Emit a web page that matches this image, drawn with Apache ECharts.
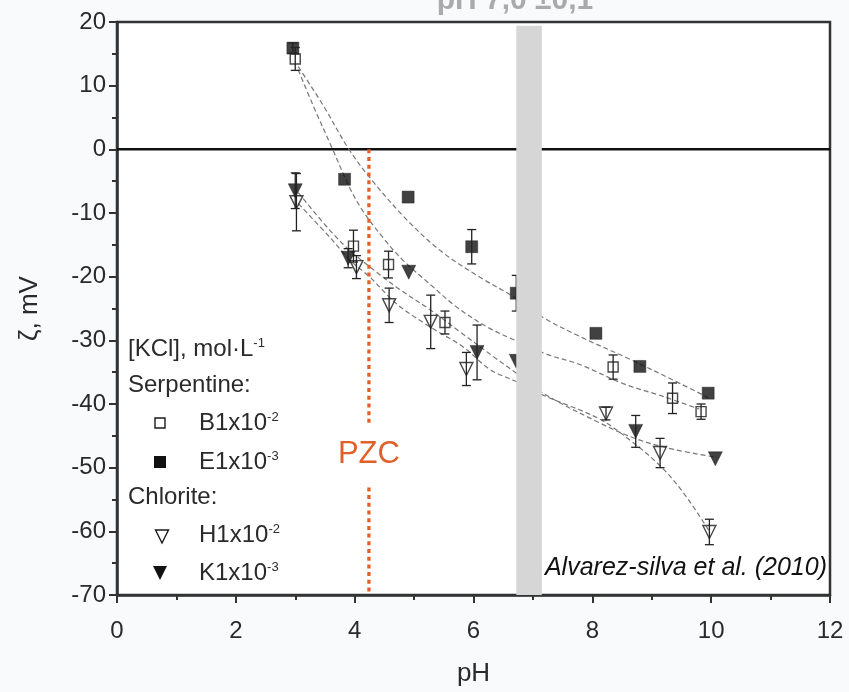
<!DOCTYPE html>
<html>
<head>
<meta charset="utf-8">
<script src="https://cdn.jsdelivr.net/npm/echarts@6/dist/echarts.min.js"></script>
<style>
html,body{margin:0;padding:0;background:#f9fafc;}
#chart{width:849px;height:692px;}
</style>
</head>
<body>
<div id="chart"></div>
<script>
// ---- data ----
const xTicks = [0, 2, 4, 6, 8, 10, 12];
const yTicks = [20, 10, 0, -10, -20, -30, -40, -50, -60, -70];

// Serpentine B 1x10^-2 (open squares)
const phB  = [3.0, 3.98, 4.57, 5.52, 8.35, 9.35, 9.83];
const mvB  = [14.2, -15.2, -18.1, -27.2, -34.2, -39.1, -41.2];
const errB = [1.8, 2.5, 2.1, 1.8, 1.9, 2.4, 1.2];

// Serpentine E 1x10^-3 (filled squares)
const phE  = [2.96, 3.83, 4.9, 5.97, 6.72, 8.06, 8.8, 9.95];
const mvE  = [15.9, -4.7, -7.5, -15.3, -22.6, -28.9, -34.1, -38.3];
const errE = [0.8, 0, 0, 2.7, 2.8, 0, 0, 0];

// Chlorite H 1x10^-2 (open down triangles)
const phH  = [3.02, 4.03, 4.58, 5.28, 5.88, 8.23, 9.14, 9.97];
const mvH  = [-8.3, -18.5, -24.5, -27.1, -34.5, -41.5, -47.7, -60.1];
const errH = [4.5, 1.8, 2.7, 4.2, 2.6, 1.0, 2.3, 2.0];

// Chlorite K 1x10^-3 (filled down triangles)
const phK  = [3.0, 3.89, 4.91, 6.06, 6.72, 8.73, 10.07];
const mvK  = [-6.5, -17.1, -19.3, -31.9, -33.3, -44.3, -48.6];
const errK = [2.8, 1.5, 0, 4.3, 0, 2.5, 0];

// fitted (dashed) curves
const fitE = [[3.05,13.0],[3.47,6.9],[3.89,0.2],[4.26,-4.5],[4.85,-10.8],[5.44,-15.9],[6.11,-20.1],[6.7,-23.3],[7.17,-26.4],[7.79,-29.4],[8.64,-33.0],[9.48,-36.8],[9.95,-39.0]];
const fitB = [[3.05,12.5],[3.3,6.9],[3.62,0.2],[3.92,-6.1],[4.14,-9.7],[4.48,-13.9],[4.81,-17.4],[5.27,-21.2],[5.72,-24.8],[6.23,-27.9],[6.7,-30.0],[7.24,-32.2],[7.79,-33.8],[8.52,-36.8],[9.19,-38.8],[9.8,-40.8]];
const fitK = [[3.05,-6.8],[3.59,-12.8],[3.92,-15.9],[4.26,-18.5],[4.71,-21.7],[5.27,-25.2],[5.82,-29.0],[6.4,-33.0],[6.7,-35.0],[7.17,-38.3],[8.13,-43.0],[8.69,-45.3],[9.26,-46.9],[10.1,-48.4]];
const fitH = [[3.05,-8.5],[3.59,-13.9],[3.92,-17.4],[4.26,-20.1],[4.71,-24.3],[5.27,-27.9],[5.82,-31.0],[6.28,-34.6],[6.7,-36.4],[7.17,-38.6],[8.13,-42.4],[8.69,-46.1],[9.14,-49.7],[9.53,-53.9],[9.97,-60.0]];

// annotations
const bandPH = [6.72, 7.15];
const bandTop = 19.4;
const pzcPH = 4.24;
const pzcSegments = [[0, -43.1], [-53.1, -70]];
const pzcLabelMV = -48;
const zeroMV = 0;

// ---- build ----
const FONT = 'Liberation Sans, Arial, Helvetica, sans-serif';
const INK = '#2a2a2a';
const chart = echarts.init(document.getElementById('chart'), null, {renderer: 'canvas'});

function errData(ph, mv, err) {
  const out = [];
  for (let i = 0; i < ph.length; i++) if (err[i] > 0) out.push([ph[i], mv[i] - err[i], mv[i] + err[i]]);
  return out;
}
function pts(ph, mv) { return ph.map((x, i) => [x, mv[i]]); }

function errSeries(data) {
  return {
    type: 'custom', z: 4, silent: true, data: data,
    encode: {x: 0, y: [1, 2]},
    renderItem: function (params, api) {
      const x = api.value(0), lo = api.value(1), hi = api.value(2);
      const a = api.coord([x, hi]), b = api.coord([x, lo]);
      const w = 4.5;
      const st = {stroke: '#222', lineWidth: 1.3};
      return {type: 'group', children: [
        {type: 'line', shape: {x1: a[0], y1: a[1], x2: b[0], y2: b[1]}, style: st},
        {type: 'line', shape: {x1: a[0]-w, y1: a[1], x2: a[0]+w, y2: a[1]}, style: st},
        {type: 'line', shape: {x1: b[0]-w, y1: b[1], x2: b[0]+w, y2: b[1]}, style: st}
      ]};
    }
  };
}
function fitSeries(data) {
  return {
    type: 'line', data: data, smooth: 0.35, showSymbol: false, silent: true, z: 2,
    lineStyle: {color: '#777', width: 1.2, type: [5, 3]}
  };
}
const openStyle = {color: 'rgba(255,255,255,0)', borderColor: '#1a1a1a', borderWidth: 1.4};
const fillStyle = {color: '#111', borderColor: '#111', borderWidth: 0.5};

const option = {
  backgroundColor: '#f9fafc',
  animation: false,
  textStyle: {fontFamily: FONT},
  grid: {left: 117, right: 19, top: 22, bottom: 91, show: true, backgroundColor: '#ffffff', borderColor: '#333', borderWidth: 2.5},
  xAxis: {
    type: 'value', min: xTicks[0], max: xTicks[xTicks.length-1], interval: xTicks[1]-xTicks[0],
    name: 'pH', nameLocation: 'middle', nameGap: 66,
    nameTextStyle: {fontSize: 26, color: INK, fontFamily: FONT},
    axisLine: {show: true, onZero: false, lineStyle: {color: '#333', width: 2.5}},
    axisTick: {show: true, inside: false, length: 8, lineStyle: {color: '#333', width: 2}},
    minorTick: {show: true, splitNumber: 2, length: 5, lineStyle: {color: '#333', width: 2}},
    axisLabel: {fontSize: 24, color: INK, margin: 24, fontFamily: FONT},
    splitLine: {show: false}
  },
  yAxis: {
    type: 'value', min: yTicks[yTicks.length-1], max: yTicks[0], interval: yTicks[0]-yTicks[1],
    name: 'ζ, mV', nameLocation: 'middle', nameGap: 74,
    nameTextStyle: {fontSize: 26, color: INK, fontFamily: FONT},
    axisLine: {show: true, onZero: false, lineStyle: {color: '#333', width: 2.5}},
    axisTick: {show: true, inside: false, length: 8, lineStyle: {color: '#333', width: 2}},
    minorTick: {show: true, splitNumber: 2, length: 5, lineStyle: {color: '#333', width: 2}},
    axisLabel: {fontSize: 24, color: INK, margin: 11, fontFamily: FONT},
    splitLine: {show: false}
  },
  series: [
    // zero line
    {type: 'custom', z: 1, silent: true, data: [[zeroMV]], encode: {y: 0},
      renderItem: function (params, api) {
        const y = api.value(0);
        const a = api.coord([xTicks[0], y]), b = api.coord([xTicks[xTicks.length-1], y]);
        return {type: 'line', shape: {x1: a[0], y1: a[1], x2: b[0], y2: b[1]}, style: {stroke: '#111', lineWidth: 2.5}};
      }},
    // PZC dotted line
    {type: 'custom', z: 3, silent: true, data: pzcSegments.map(s => [pzcPH, s[0], s[1]]), encode: {x: 0, y: [1, 2]},
      renderItem: function (params, api) {
        const a = api.coord([api.value(0), api.value(1)]), b = api.coord([api.value(0), api.value(2)]);
        return {type: 'line', shape: {x1: a[0], y1: a[1], x2: b[0], y2: b[1]}, style: {stroke: '#e0602a', lineWidth: 3.3, lineDash: [4, 3.7]}};
      }},
    fitSeries(fitE), fitSeries(fitB), fitSeries(fitK), fitSeries(fitH),
    {type: 'scatter', name: 'B1x10-2', data: pts(phB, mvB), symbol: 'rect', symbolSize: 10, z: 3, itemStyle: openStyle},
    {type: 'scatter', name: 'E1x10-3', data: pts(phE, mvE), symbol: 'rect', symbolSize: 12, z: 3, itemStyle: fillStyle},
    {type: 'scatter', name: 'H1x10-2', data: pts(phH, mvH), symbol: 'triangle', symbolRotate: 180, symbolSize: 13, z: 3, itemStyle: openStyle},
    {type: 'scatter', name: 'K1x10-3', data: pts(phK, mvK), symbol: 'triangle', symbolRotate: 180, symbolSize: 14, z: 3, itemStyle: fillStyle},
    errSeries(errData(phB, mvB, errB)),
    errSeries(errData(phE, mvE, errE)),
    errSeries(errData(phH, mvH, errH)),
    errSeries(errData(phK, mvK, errK)),
    // gray pH band (drawn over everything)
    {type: 'custom', z: 10, silent: true, data: [[bandPH[0], bandPH[1], bandTop, yTicks[yTicks.length-1]]], encode: {x: [0, 1], y: [2, 3]},
      renderItem: function (params, api) {
        const a = api.coord([api.value(0), api.value(2)]), b = api.coord([api.value(1), api.value(3)]);
        return {type: 'rect', shape: {x: a[0], y: a[1], width: b[0]-a[0], height: b[1]-a[1]}, style: {fill: '#d6d6d6'}};
      }}
  ]
};
chart.setOption(option);

// ---- annotations (text + legend) ----
const pzcPix = chart.convertToPixel({gridIndex: 0}, [pzcPH, pzcLabelMV]);
const sup = {fontSize: 13, verticalAlign: 'top', fill: INK, fontFamily: FONT};
const lbl = {fontSize: 24, fill: INK, fontFamily: FONT};
function t(x, y, text, extra) {
  return Object.assign({type: 'text', x: x, y: y, z: 20, silent: true,
    style: {text: text, fontSize: 24, fill: INK, fontFamily: FONT, verticalAlign: 'middle', align: 'left'}}, extra || {});
}
function rt(x, y, main, s) {
  return {type: 'text', x: x, y: y, z: 20, silent: true,
    style: {text: '{a|' + main + '}{s|' + s + '}', verticalAlign: 'middle', align: 'left', rich: {a: lbl, s: sup}}};
}
const graphics = [
  {type: 'text', x: 515, y: 1, z: 20, silent: true,
    style: {text: 'pH 7,0 ±0,1', fontSize: 30, fontWeight: 'bold', fill: '#aaaaaa', fontFamily: FONT, align: 'center', verticalAlign: 'middle'}},
  {type: 'text', x: pzcPix[0], y: pzcPix[1], z: 20, silent: true,
    style: {text: 'PZC', fontSize: 31, fill: '#e0602a', fontFamily: FONT, align: 'center', verticalAlign: 'middle'}},
  {type: 'text', x: 827, y: 568, z: 20, silent: true,
    style: {text: 'Alvarez-silva et al. (2010)', fontSize: 25, fontStyle: 'italic', fill: '#111', fontFamily: FONT, align: 'right', verticalAlign: 'middle'}},
  rt(128, 349, '[KCl], mol·L', '-1'),
  t(128, 385, 'Serpentine:'),
  {type: 'rect', z: 20, silent: true, shape: {x: 155, y: 418, width: 10, height: 10}, style: {fill: 'none', stroke: '#1a1a1a', lineWidth: 1.4}},
  rt(199, 423, 'B1x10', '-2'),
  {type: 'rect', z: 20, silent: true, shape: {x: 154, y: 456, width: 12, height: 12}, style: {fill: '#111'}},
  rt(199, 462, 'E1x10', '-3'),
  t(128, 497, 'Chlorite:'),
  {type: 'polygon', z: 20, silent: true, shape: {points: [[155.5, 530], [168.5, 530], [162, 543]]}, style: {fill: 'none', stroke: '#1a1a1a', lineWidth: 1.4}},
  rt(199, 535, 'H1x10', '-2'),
  {type: 'polygon', z: 20, silent: true, shape: {points: [[153, 566], [167, 566], [160, 580]]}, style: {fill: '#111'}},
  rt(199, 573, 'K1x10', '-3')
];
chart.setOption({graphic: graphics});
</script>
</body>
</html>
